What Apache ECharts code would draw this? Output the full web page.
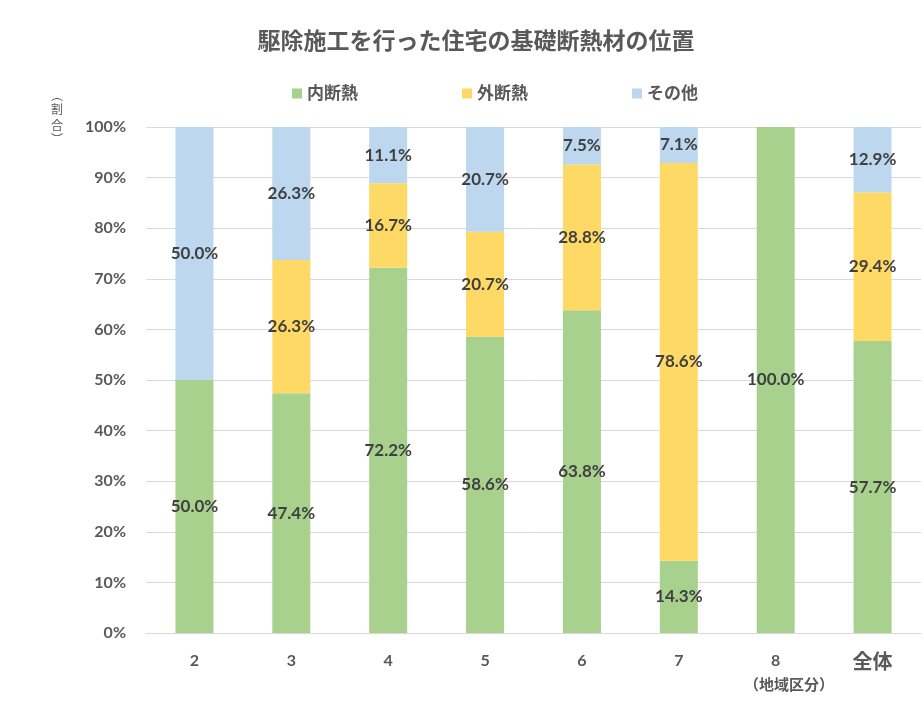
<!DOCTYPE html>
<html><head><meta charset="utf-8">
<script src="https://cdn.jsdelivr.net/npm/echarts@6/dist/echarts.min.js"></script>
<style>html,body{margin:0;padding:0;background:#fff}#c{width:924px;height:720px}</style>
</head><body><div id="c"></div>
<script>
const categories = ['2','3','4','5','6','7','8','全体'];
const inner = [50.0, 47.4, 72.2, 58.6, 63.8, 14.3, 100.0, 57.7];
const outer = [0, 26.3, 16.7, 20.7, 28.8, 78.6, 0, 29.4];
const other = [50.0, 26.3, 11.1, 20.7, 7.5, 7.1, 0, 12.9];
const seriesNames = ['内断熱', '外断熱', 'その他'];
const colors = ['#A9D18E', '#FFD966', '#BDD7EE'];

const FF = "Lato, 'Noto Sans CJK JP', sans-serif";
const JP = "'Noto Sans CJK JP', sans-serif";
const chart = echarts.init(document.getElementById('c'));
const lbl = {
  show: true, position: 'inside', fontFamily: FF, fontSize: 17, fontWeight: 'bold', color: '#404040',
  formatter: p => p.value > 0 ? p.value.toFixed(1) + '%' : ''
};
const mk = (name, data, color) => ({
  name, type: 'bar', stack: 'a', data, barWidth: 38,
  itemStyle: { color }, label: lbl, emphasis: { disabled: true }
});
const vt = (t, top) => ({ type: 'text', left: 51, top, style: { text: t, fontFamily: JP, fontSize: 12, fill: '#595959' } });
chart.setOption({
  animation: false,
  textStyle: { fontFamily: FF },
  title: {
    text: '駆除施工を行った住宅の基礎断熱材の位置', left: 471, top: 25, textAlign: 'center',
    textStyle: { fontFamily: FF, fontSize: 23, fontWeight: 'bold', color: '#595959' }
  },
  legend: {
    top: 80, left: 287, icon: 'rect', itemWidth: 10, itemHeight: 10, itemGap: 104,
    textStyle: { fontFamily: FF, fontSize: 17, fontWeight: 'bold', color: '#595959' },
    data: seriesNames
  },
  grid: { left: 146, right: 3, top: 127, bottom: 87, containLabel: false },
  xAxis: {
    type: 'category', data: categories,
    axisLine: { lineStyle: { color: '#D9D9D9' } }, axisTick: { show: false },
    axisLabel: {
      margin: 20, fontFamily: FF, fontWeight: 'bold', color: '#595959',
      formatter: v => v === '全体' ? '{b|' + v + '}' : '{a|' + v + '}',
      rich: {
        a: { fontFamily: FF, fontSize: 16, fontWeight: 'bold', color: '#595959' },
        b: { fontFamily: FF, fontSize: 20, fontWeight: 'bold', color: '#595959' }
      }
    }
  },
  yAxis: {
    type: 'value', min: 0, max: 100, interval: 10,
    axisLine: { show: false }, axisTick: { show: false },
    splitLine: { lineStyle: { color: '#D9D9D9' } },
    axisLabel: { margin: 20, fontFamily: FF, fontSize: 16, fontWeight: 'bold', color: '#595959', formatter: '{value}%' }
  },
  graphic: [
    vt('︵', 89), vt('割', 103), vt('合', 119), vt('︶', 133),
    { type: 'text', left: 744, top: 677, style: { text: '（地域区分）', fontFamily: JP, fontSize: 15, fontWeight: 'bold', fill: '#595959' } }
  ],
  series: [mk(seriesNames[0], inner, colors[0]), mk(seriesNames[1], outer, colors[1]), mk(seriesNames[2], other, colors[2])]
});
</script></body></html>
